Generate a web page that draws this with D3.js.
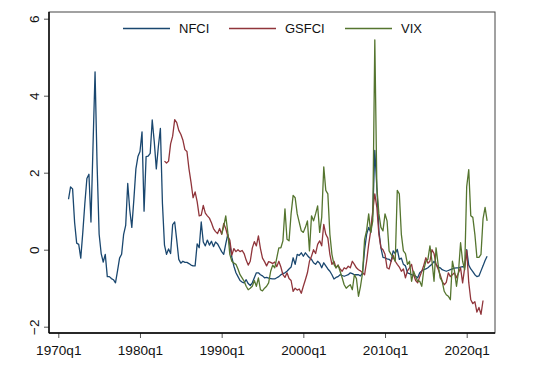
<!DOCTYPE html>
<html>
<head>
<meta charset="utf-8">
<script src="https://cdn.jsdelivr.net/npm/d3@7"></script>
<style>
  body { margin: 0; background: #fff; }
  svg { display: block; }
  text { font-family: "Liberation Sans", Arial, sans-serif; fill: #111; }
</style>
</head>
<body>
<div class="box"></div>
<script>
// Series names (legend order)
const seriesNames = ["NFCI", "GSFCI", "VIX"];

// First quarter of each series
const nfciStart = "1971q2";
const gsfciStart = "1983q1";
const vixStart = "1990q1";

// Quarterly values
const nfci = [
  1.31, 1.63, 1.58,
  0.7, 0.17, 0.14, -0.22,
  0.45, 1.2, 1.85, 1.96,
  0.72, 2.7, 4.62, 2.2,
  0.4, -0.1, -0.32, -0.12,
  -0.7, -0.7, -0.75, -0.78,
  -0.86, -0.55, -0.22, -0.12,
  0.4, 0.63, 1.72, 1.03,
  0.58, 1.3, 2.1, 2.42,
  2.55, 3.06, 1.0, 2.42,
  2.43, 2.5, 3.37, 2.8,
  2.1, 2.68, 3.15, 1.2,
  0.12, -0.12, 0.02, -0.1,
  0.65, 0.72, 0.25, -0.25,
  -0.35, -0.3, -0.33, -0.33,
  -0.36, -0.4, -0.42, -0.42,
  0.15, 0.05, 0.72, 0.2,
  0.1, 0.25, 0.12, 0.22,
  0.08, 0.2, 0.15, 0.05,
  -0.05, -0.12, 0.15, 0.4,
  0.14, -0.2, -0.43, -0.6,
  -0.7, -0.8, -0.84, -0.86,
  -0.78, -0.88, -0.93, -0.86,
  -0.73, -0.6, -0.6, -0.65,
  -0.68, -0.73, -0.72, -0.74,
  -0.75, -0.76, -0.76, -0.73,
  -0.7, -0.65, -0.62, -0.6,
  -0.56, -0.5, -0.45, -0.21,
  -0.38, -0.12, -0.15, -0.08,
  -0.17, -0.08, -0.15, -0.21,
  -0.25, -0.34, -0.38, -0.3,
  -0.35, -0.47, -0.34, -0.42,
  -0.5, -0.56, -0.65, -0.76,
  -0.72, -0.7, -0.65, -0.67,
  -0.69, -0.67, -0.65, -0.6,
  -0.62, -0.65, -0.65, -0.65,
  -0.68, -0.6, 0.0, 0.4,
  0.58, 0.45, 0.93, 2.58,
  1.62, 0.49, 0.05, -0.2,
  -0.21, -0.24, -0.25, -0.3,
  -0.03, -0.1, 0.01, -0.25,
  -0.22, -0.38, -0.42, -0.6,
  -0.62, -0.65, -0.67, -0.69,
  -0.73, -0.6, -0.55, -0.52,
  -0.5, -0.47, -0.42, -0.38,
  -0.3, -0.38, -0.45, -0.47,
  -0.52, -0.54, -0.56, -0.54,
  -0.52, -0.5, -0.48, -0.47,
  -0.47, -0.45, -0.44, -0.45,
  0.0, -0.4, -0.5, -0.57,
  -0.65, -0.7, -0.68, -0.55,
  -0.42, -0.28, -0.17
];

const gsfci = [
  2.3, 2.25, 2.3, 2.75,
  2.95, 3.38, 3.3, 3.1,
  3.0, 2.85, 2.6, 2.55,
  2.1, 1.75, 1.35, 1.5,
  1.25, 0.88, 0.9, 1.15,
  0.95, 0.88, 0.82, 0.7,
  0.55, 0.47, 0.42, 0.55,
  0.4, 0.68, 0.55, 0.35,
  0.25, -0.14, 0.03, -0.05,
  0.0, -0.05, -0.02, -0.1,
  -0.27, -0.4, -0.3, 0.04,
  0.21, 0.1, 0.36, 0.03,
  -0.22, -0.31, -0.42, -0.31,
  -0.33, -0.36, -0.32, -0.44,
  -0.3, -0.45, -0.65, -0.72,
  -0.6, -0.75, -0.8, -1.08,
  -1.0, -1.05, -1.02, -1.13,
  -0.95, -0.78, -0.6, -0.3,
  -0.17, 0.0, -0.1, 0.14,
  0.23, 0.1, 0.66, 0.4,
  0.3, -0.12, -0.38, -0.3,
  -0.47, -0.4, -0.5, -0.56,
  -0.47, -0.5, -0.43, -0.47,
  -0.3, -0.38, -0.47, -0.52,
  -0.55, -0.6, -0.65, -0.3,
  0.14, 0.49, 1.01, 1.45,
  1.1, 0.4, 0.05, 0.0,
  -0.12, -0.47, -0.5, -0.3,
  -0.15, -0.3, -0.38, -0.45,
  -0.56, -0.5, -0.73, -0.55,
  -0.47, -0.38, -0.65, -0.8,
  -0.86, -0.7, -0.56, -0.4,
  -0.21, -0.35, -0.3, 0.0,
  -0.1, -0.38, -0.5, -0.65,
  -0.82, -0.91, -0.85, -0.6,
  -0.7, -0.65, -0.6, -0.73,
  -0.6, -0.47, -0.86, -0.47,
  -0.02, -0.85, -1.3, -1.4,
  -1.35, -1.62, -1.5, -1.68,
  -1.32
];

const vix = [
  0.4, 0.6, 0.88, 0.45,
  -0.12, -0.3, -0.35, -0.38,
  -0.5, -0.65, -0.73, -0.82,
  -0.95, -1.04, -1.0, -0.95,
  -0.8, -0.95, -0.73, -1.04,
  -1.07, -1.0, -0.95, -0.86,
  -0.56, -0.4, -0.47, -0.21,
  0.05, 0.05, 0.23, 1.06,
  0.27, 0.23, 0.93, 1.41,
  1.35, 0.93, 0.71, 0.49,
  0.45, 0.58, 0.75, -0.03,
  0.88, 0.75, 0.93, 1.14,
  0.45, 0.84, 2.15, 1.54,
  1.45, 0.4, -0.12, -0.38,
  -0.47, -0.4, -0.56, -0.73,
  -0.91, -1.0, -0.95, -0.91,
  -1.04, -0.65, -0.75, -1.21,
  -0.95, -0.6, 0.27, 0.5,
  0.93, 0.45, 0.75, 5.45,
  1.62, 0.93, 0.58, 0.49,
  0.93, 0.75, -0.03, -0.12,
  -0.2, -0.3, 1.54, 1.45,
  0.4, -0.03, -0.1, -0.38,
  -0.3, -0.82, -0.56, -0.7,
  -0.82, -0.82, -0.95, -0.52,
  -0.3, -0.25, 0.1, -0.3,
  -0.82, 0.05, -0.38, -0.73,
  -0.82, -1.08, -1.17, -1.21,
  -1.3, -0.3, -0.55, -0.95,
  -0.56, 0.18, -0.3, -0.52,
  1.64, 2.08, 0.88, 0.84,
  0.4, -0.2, -0.2, -0.12,
  0.8, 1.1, 0.75
];

// Axis ticks
const yTicks = [-2, 0, 2, 4, 6];
const xTickLabels = ["1970q1", "1980q1", "1990q1", "2000q1", "2010q1", "2020q1"];

/////////////////////////////////////////////////////////////////

// quarter string -> index counted from 1970q1
const qIndex = s => (+s.slice(0, 4) - 1970) * 4 + (+s.slice(5) - 1);

const seriesData = [
  { name: "NFCI", start: nfciStart, values: nfci },
  { name: "GSFCI", start: gsfciStart, values: gsfci },
  { name: "VIX", start: vixStart, values: vix }
].map(s => ({
  name: s.name,
  points: s.values.map((v, i) => ({ t: qIndex(s.start) + i, v: v }))
}));

const color = d3.scaleOrdinal()
                .domain(seriesNames)
                .range(["#1a476f", "#90353b", "#55752f"]);

// SVG
const w = 548;
const h = 376;
const plot = { left: 49, right: 495, top: 12, bottom: 333 };

const svg = d3.select(".box")
              .append("svg")
              .attr("width", w)
              .attr("height", h);

const x = d3.scaleLinear()
            .domain([qIndex("1970q1"), qIndex("2020q1")])
            .range([58.3, 466.7]);

const y = d3.scaleLinear()
            .domain([-2, 6])
            .range([326.7, 18.7]);

// plot region frame
svg.append("rect")
   .attr("x", plot.left)
   .attr("y", plot.top)
   .attr("width", plot.right - plot.left)
   .attr("height", plot.bottom - plot.top)
   .attr("fill", "none")
   .attr("stroke", "#444")
   .attr("stroke-width", 1);

// lines
const line = d3.line()
               .x(d => x(d.t))
               .y(d => y(d.v));

svg.append("g")
   .selectAll("path")
   .data(seriesData)
   .enter()
   .append("path")
   .attr("d", d => line(d.points))
   .attr("fill", "none")
   .attr("stroke", d => color(d.name))
   .attr("stroke-width", 1.3)
   .attr("stroke-linejoin", "round");

// X AXIS
const xAxis = d3.axisBottom(x)
                .tickValues(xTickLabels.map(qIndex))
                .tickFormat((d, i) => xTickLabels[i])
                .tickSize(5)
                .tickPadding(7);

const gx = svg.append("g")
              .attr("transform", "translate(0," + plot.bottom + ")")
              .call(xAxis);
gx.select(".domain").remove();
gx.selectAll("line").attr("stroke", "#555");
gx.selectAll("text")
  .style("font-size", "13.6px")
  .style("font-family", "'Liberation Sans', Arial, sans-serif")
  .attr("fill", "#111");

// Y AXIS
const yAxis = d3.axisLeft(y)
                .tickValues(yTicks)
                .tickFormat(d3.format("d"))
                .tickSize(5)
                .tickPadding(4);

const gy = svg.append("g")
              .attr("transform", "translate(" + plot.left + ",0)")
              .call(yAxis);
gy.select(".domain").remove();
gy.selectAll("line").attr("stroke", "#555");
gy.selectAll("text")
  .style("font-size", "13.6px")
  .style("font-family", "'Liberation Sans', Arial, sans-serif")
  .attr("fill", "#111")
  .attr("x", null)
  .attr("dy", null)
  .attr("text-anchor", "middle")
  .attr("transform", "translate(-10,0) rotate(-90)");

// axis lines (left and bottom, darker)
svg.append("line")
   .attr("x1", plot.left).attr("x2", plot.left)
   .attr("y1", plot.top).attr("y2", plot.bottom)
   .attr("stroke", "#000").attr("stroke-width", 1.4);
svg.append("line")
   .attr("x1", plot.left).attr("x2", plot.right)
   .attr("y1", plot.bottom).attr("y2", plot.bottom)
   .attr("stroke", "#000").attr("stroke-width", 1.4);

// LEGEND
const legendX = [123, 229, 345];
const legendY = 28.5;
const legend = svg.append("g").attr("id", "legend");

legend.selectAll("line")
      .data(seriesNames)
      .enter()
      .append("line")
      .attr("x1", (d, i) => legendX[i])
      .attr("x2", (d, i) => legendX[i] + 47)
      .attr("y1", legendY)
      .attr("y2", legendY)
      .attr("stroke", d => color(d))
      .attr("stroke-width", 1.3);

legend.selectAll("text")
      .data(seriesNames)
      .enter()
      .append("text")
      .attr("x", (d, i) => legendX[i] + 56)
      .attr("y", legendY + 4.6)
      .text(d => d)
      .style("font-size", "13px");
</script>
</body>
</html>
